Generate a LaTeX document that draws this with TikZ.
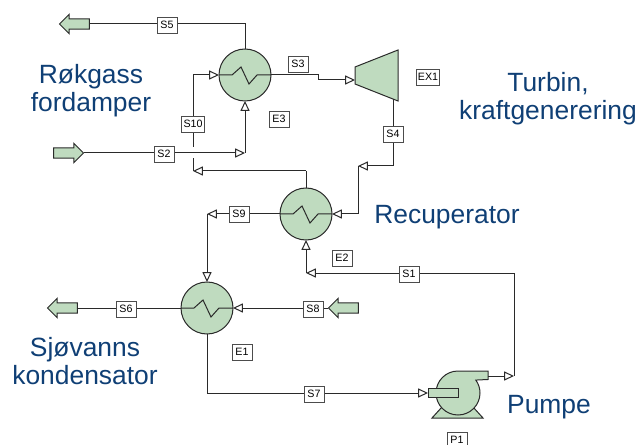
\documentclass[tikz,border=0pt]{standalone}
\usepackage{fontspec}
\setmainfont{Liberation Sans}
\usepackage{xcolor}
\usetikzlibrary{arrows.meta,shapes.arrows}
\definecolor{unitgreen}{HTML}{BFDBBF}
\definecolor{titleblue}{HTML}{0F3F75}
\definecolor{lineblack}{HTML}{2A2A2A}

\begin{document}
\begin{tikzpicture}[x=0.75pt,y=-0.75pt,>={Triangle[open,fill=white,length=7.4pt,width=6.8pt]},line width=0.75pt,draw=lineblack]
\tikzstyle{hxunit}=[draw,circle,fill=unitgreen,minimum size=39pt,inner sep=0pt,outer sep=0pt]
\tikzstyle{tag}=[draw=black!70,fill=white,font=\fontsize{8}{9}\selectfont,minimum height=12pt,minimum width=15pt,inner sep=1.2pt,line width=0.7pt]
\tikzstyle{feedarrow}=[draw,single arrow,fill=unitgreen,minimum height=22.5pt,inner xsep=0pt,inner ysep=3.4pt,outer sep=0pt,single arrow head extend=3.4pt,single arrow head indent=0pt]
\tikzstyle{caption}=[align=center,text=titleblue,font=\fontsize{19.8}{21}\selectfont]
\useasboundingbox (0,0) rectangle (642,445);

% units
\node[hxunit] (fordamper) at (245,75) {};
\node[hxunit] (recup) at (306,214) {};
\node[hxunit] (kondens) at (207,308) {};
\foreach \hx in {fordamper,recup,kondens}
  \draw (\hx.west) -- ++(13,0) -- ++(9,-8) -- ++(8,17) -- ++(8,-9) -- (\hx.east);
\draw[fill=unitgreen] (355,67) -- (398,50) -- (398,101) -- (355,84) -- cycle;
\coordinate (turbIn) at (355,80);
\coordinate (turbOut) at (393,99);
% pump
\draw[fill=unitgreen] (442,407) -- (473,407) -- (483,418) -- (432,418) -- cycle;
\draw[fill=unitgreen] (488,371) -- (458,371) arc[start angle=-90,end angle=-396,radius=22] -- (488,379.5) -- cycle;
\node[draw,fill=unitgreen,minimum width=22.5pt,minimum height=6.5pt,inner sep=0pt,outer sep=0pt] (suction) at (443,393) {};
\coordinate (pumpOut) at (488,376);

% feeds and products
\node[feedarrow] (feedS2) at (66,153) {};
\node[feedarrow,shape border rotate=180] (prodS5) at (77,24) {};
\node[feedarrow,shape border rotate=180] (feedS8) at (346,308) {};
\node[feedarrow,shape border rotate=180] (prodS6) at (65,308) {};

% corners
\coordinate (cS5) at (245,24);
\coordinate (cS3a) at (318,75);
\coordinate (cS3b) at (318,80);
\coordinate (jS2) at (245,153);
\coordinate (jS10) at (193,171);
\coordinate (gapLow) at (193,158);
\coordinate (gapHigh) at (193,147);
\coordinate (cS10) at (193,75);
\coordinate (cS10b) at (306,171);
\coordinate (cS4) at (393,166);
\coordinate (jS4) at (358,166);
\coordinate (cS4b) at (358,214);
\coordinate (jS9) at (207,214);
\coordinate (jS1) at (306,273);
\coordinate (cS1) at (514,273);
\coordinate (jPump) at (514,376);
\coordinate (cS7) at (207,393);

% streams
\draw (fordamper.north) -- (cS5) -- (prodS5.east);
\draw[->] (feedS2.east) -- (jS2);
\draw[->] (jS2) -- (fordamper.south);
\draw (fordamper.east) -- (cS3a) -- (cS3b);
\draw[->] (cS3b) -- (turbIn);
\draw (turbOut) -- (cS4);
\draw[->] (cS4) -- (jS4);
\draw (jS4) -- (cS4b);
\draw[->] (cS4b) -- (recup.east);
\draw (recup.north) -- (cS10b);
\draw[->] (cS10b) -- (jS10);
\draw (jS10) -- (gapLow);
\draw (gapHigh) -- (cS10);
\draw[->] (cS10) -- (fordamper.west);
\draw[->] (recup.west) -- (jS9);
\draw[->] (jS9) -- (kondens.north);
\draw[->] (feedS8.west) -- (kondens.east);
\draw (kondens.west) -- (prodS6.east);
\draw (kondens.south) -- (cS7);
\draw[->] (cS7) -- (suction.west);
\draw[->] (pumpOut) -- (jPump);
\draw (jPump) -- (cS1);
\draw[->] (cS1) -- (jS1);
\draw[->] (jS1) -- (recup.south);

% tags
\node[tag] (S5) at (167,25) {S5};
\node[tag] (S3) at (298,64) {S3};
\node[tag] (S10) at (193,124) {S10};
\node[tag] (S2) at (164,154) {S2};
\node[tag] (S4) at (393,134) {S4};
\node[tag] (S9) at (239,214) {S9};
\node[tag] (S1) at (409,274) {S1};
\node[tag] (S8) at (313,309) {S8};
\node[tag] (S6) at (126,309) {S6};
\node[tag] (S7) at (314,394) {S7};
\node[tag] (E3) at (279,119) {E3};
\node[tag] (E2) at (342,258) {E2};
\node[tag] (E1) at (242,352) {E1};
\node[tag] (EX1) at (428,77) {EX1};
\node[tag] (P1) at (457,440) {P1};

% captions
\node[caption] (capFord) at (91,91) {Røkgass\\fordamper};
\node[caption] (capTurb) at (548,99) {Turbin,\\kraftgenerering};
\node[caption] (capRecup) at (447,217) {Recuperator};
\node[caption] (capKond) at (85,361) {Sjøvanns\\kondensator};
\node[caption] (capPump) at (549,407) {Pumpe};
\end{tikzpicture}
\end{document}
